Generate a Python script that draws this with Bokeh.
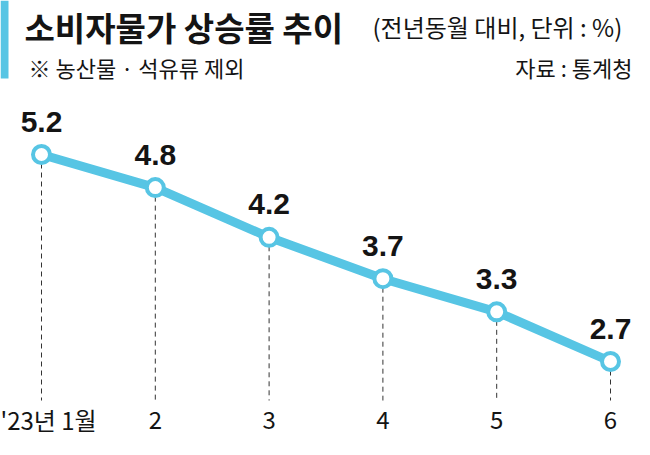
from bokeh.plotting import figure
from bokeh.models import ColumnDataSource, Range1d, Label, BoxAnnotation
from bokeh.core.properties import value
from bokeh.embed import file_html
from bokeh.resources import INLINE

# ---- data ----
months = ["'23년 1월", "2", "3", "4", "5", "6"]
rates = [5.2, 4.8, 4.2, 3.7, 3.3, 2.7]
rate_labels = ["5.2", "4.8", "4.2", "3.7", "3.3", "2.7"]

title_text = "소비자물가 상승률 추이"
subtitle_text = "(전년동월 대비, 단위 : %)"
note_text = "※ 농산물 · 석유류 제외"
source_text = "자료 : 통계청"

# ---- layout constants ----
W, H = 634, 439
BLUE = "#57C5E4"
INK = "#141414"
KFONT = "Noto Sans CJK KR"

x0_px, dx_px = 41.0, 113.8        # first point px, spacing px
y_top_val, y_top_px, px_per_unit = 5.2, 154.0, 82.8

x_start = -x0_px / dx_px
x_end = (W - x0_px) / dx_px
y_end = y_top_val + y_top_px / px_per_unit
y_start = y_end - H / px_per_unit


def yval(px_from_top):
    return y_end - px_from_top / px_per_unit


xs = list(range(len(months)))
dash_base = yval(400)
label_y = yval(419)

src = ColumnDataSource(dict(
    x=xs,
    y=rates,
    lab=rate_labels,
    base=[dash_base] * len(xs),
))

# category labels: first one is left-aligned at the frame edge so it is not cut
lab_x = [x_start] + xs[1:]
lab_align = ["left"] + ["center"] * (len(xs) - 1)
lab_src = ColumnDataSource(dict(
    x=lab_x,
    y=[label_y] * len(xs),
    t=months,
    a=lab_align,
))

p = figure(width=W, height=H, output_backend="svg", toolbar_location=None,
           x_range=Range1d(x_start, x_end), y_range=Range1d(y_start, y_end),
           min_border=0, min_border_left=0, min_border_right=0,
           min_border_top=0, min_border_bottom=0)
p.axis.visible = False
p.grid.visible = False
p.outline_line_color = None
p.background_fill_color = "white"
p.border_fill_color = "white"

# dashed guide lines
p.segment(x0="x", y0="y", x1="x", y1="base", source=src,
          line_color="#333333", line_width=1, line_dash="5 4")

# main line and markers
p.line(x="x", y="y", source=src, line_color=BLUE, line_width=9,
       line_join="round", line_cap="round")
p.scatter(x="x", y="y", source=src, marker="circle", size=17,
          fill_color="white", line_color=BLUE, line_width=4)

# value labels
p.text(x="x", y="y", text="lab", source=src, y_offset=-33,
       text_align="center", text_baseline="alphabetic",
       text_font=value("Liberation Sans"), text_font_style="bold",
       text_font_size="30px", text_color=INK)

# category labels
p.text(x="x", y="y", text="t", source=lab_src, text_align="a",
       text_baseline="middle", text_font=value(KFONT),
       text_font_size="24px", text_color=INK)

# header
p.add_layout(BoxAnnotation(left=0, right=8, top=H, bottom=H - 78,
                           left_units="screen", right_units="screen",
                           top_units="screen", bottom_units="screen",
                           fill_color=BLUE, fill_alpha=1, line_color=None))
p.add_layout(Label(x=24, y=H - 26, x_units="screen", y_units="screen",
                   text=title_text, text_font=KFONT, text_font_style="bold",
                   text_font_size="33px", text_color=INK,
                   text_baseline="middle", text_align="left"))
p.add_layout(Label(x=372, y=H - 26, x_units="screen", y_units="screen",
                   text=subtitle_text, text_font=KFONT,
                   text_font_size="24px", text_color=INK,
                   text_baseline="middle", text_align="left"))
p.add_layout(Label(x=28, y=H - 66, x_units="screen", y_units="screen",
                   text=note_text, text_font=KFONT,
                   text_font_size="22px", text_color=INK,
                   text_baseline="middle", text_align="left"))
p.add_layout(Label(x=632, y=H - 66, x_units="screen", y_units="screen",
                   text=source_text, text_font=KFONT,
                   text_font_size="22px", text_color=INK,
                   text_baseline="middle", text_align="right"))

open("out.html", "w").write(file_html(p, INLINE))
